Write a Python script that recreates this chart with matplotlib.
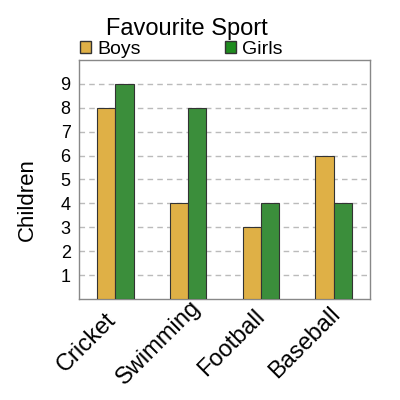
import numpy as np
import matplotlib
matplotlib.use('Agg')
import matplotlib.pyplot as plt
from matplotlib.patches import Patch
from matplotlib.transforms import ScaledTranslation

# data
sports = ['Cricket', 'Swimming', 'Football', 'Baseball']
boys = [8, 4, 3, 6]
girls = [9, 8, 4, 4]
y_ticks = [1, 2, 3, 4, 5, 6, 7, 8, 9]

plt.rcParams['font.family'] = ['Liberation Sans', 'DejaVu Sans']

boys_col = '#dfb046'
girls_col = '#3b8e3b'

fig = plt.figure(figsize=(4, 4), dpi=100)
ax = fig.add_axes([0.1975, 0.2525, 0.7275, 0.5975])

x = np.arange(len(sports))
w = 0.25
ax.bar(x - w / 2, boys, w, color=boys_col, edgecolor='#333333', linewidth=0.8, zorder=3)
ax.bar(x + w / 2, girls, w, color=girls_col, edgecolor='#333333', linewidth=0.8, zorder=3)

ax.set_xlim(-0.5, len(sports) - 0.5)
ax.set_ylim(0, 10)
ax.set_yticks(y_ticks)
ax.set_yticklabels([str(t) for t in y_ticks], fontsize=13)
ax.set_xticks(x)
ax.set_xticklabels(sports, fontsize=17, rotation=45, ha='center', va='center',
                   rotation_mode='anchor')
ax.tick_params(axis='both', length=0)
ax.tick_params(axis='y', pad=6)
ax.tick_params(axis='x', pad=0)
# rotated labels sit centred below-left of their tick
shift = ScaledTranslation(-29 / 100, -44 / 100, fig.dpi_scale_trans)
for lab in ax.get_xticklabels():
    lab.set_transform(lab.get_transform() + shift)
ax.grid(axis='y', linestyle=(0, (4, 3)), color='#bbbbbb', linewidth=1, zorder=0)
for s in ax.spines.values():
    s.set_color('#888888')
    s.set_linewidth(1)

fig.text(27 / 400, 1 - 200 / 400, 'Children', fontsize=16, rotation=90,
         ha='center', va='center')

# legend entries sit side by side above the plot
fig.legend(handles=[Patch(facecolor=boys_col, edgecolor='#333333', label='Boys')],
           loc='center left', bbox_to_anchor=(80 / 400, 1 - 49 / 400),
           frameon=False, fontsize=14, handlelength=0.57, handleheight=0.57,
           handletextpad=0.3, borderpad=0, borderaxespad=0)
fig.legend(handles=[Patch(facecolor='#1f8c1f', edgecolor='#333333', label='Girls')],
           loc='center left', bbox_to_anchor=(225 / 400, 1 - 49 / 400),
           frameon=False, fontsize=14, handlelength=0.57, handleheight=0.57,
           handletextpad=0.3, borderpad=0, borderaxespad=0)

fig.text(187 / 400, 1 - 29 / 400, 'Favourite Sport', fontsize=17, ha='center', va='center')

fig.savefig('out.png', dpi=100)
